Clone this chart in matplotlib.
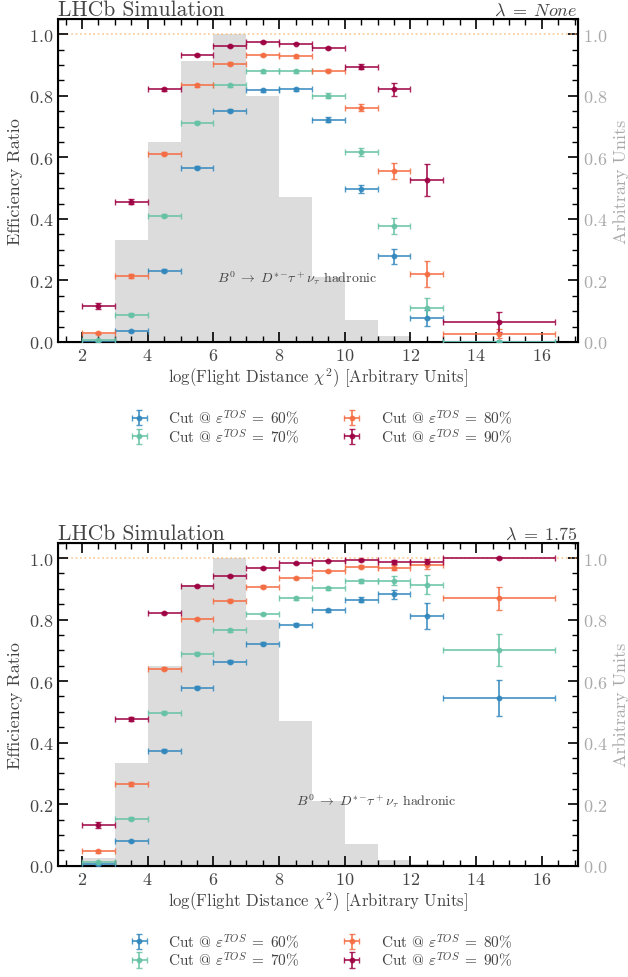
import matplotlib
matplotlib.use("Agg")
import matplotlib.pyplot as plt
from matplotlib.ticker import MultipleLocator
import numpy as np

plt.rcParams['font.family'] = 'serif'
plt.rcParams['font.serif'] = ['cmr10']
plt.rcParams['mathtext.fontset'] = 'cm'
plt.rcParams['axes.formatter.use_mathtext'] = True

bin_edges = [2, 3, 4, 5, 6, 7, 8, 9, 10, 11, 12, 13, 16.4]
hist_edges = [2, 3, 4, 5, 6, 7, 8, 9, 10, 11, 12, 13]
hist_vals = [0.025, 0.333, 0.65, 0.913, 1.0, 0.80, 0.47, 0.21, 0.07, 0.02, 0.004]

labels = [r"Cut @ $\varepsilon^{TOS}\;=\;60\%$", r"Cut @ $\varepsilon^{TOS}\;=\;70\%$",
          r"Cut @ $\varepsilon^{TOS}\;=\;80\%$", r"Cut @ $\varepsilon^{TOS}\;=\;90\%$"]
colors = ['#3288bd', '#66c2a5', '#f46d43', '#9e0142']

# panel 1: lambda = None
p1_60 = [0.0, 0.035, 0.232, 0.566, 0.751, 0.818, 0.821, 0.722, 0.497, 0.278, 0.078, 0.0]
p1_70 = [0.005, 0.089, 0.411, 0.712, 0.835, 0.880, 0.880, 0.801, 0.617, 0.377, 0.110, 0.0]
p1_80 = [0.029, 0.215, 0.612, 0.835, 0.905, 0.932, 0.928, 0.881, 0.762, 0.556, 0.221, 0.027]
p1_90 = [0.117, 0.456, 0.822, 0.932, 0.961, 0.974, 0.970, 0.955, 0.895, 0.821, 0.528, 0.065]
e1_60 = [0.003, 0.004, 0.005, 0.005, 0.005, 0.005, 0.005, 0.008, 0.012, 0.024, 0.025, 0.003]
e1_70 = [0.003, 0.004, 0.005, 0.005, 0.005, 0.005, 0.005, 0.007, 0.012, 0.025, 0.034, 0.003]
e1_80 = [0.004, 0.006, 0.005, 0.005, 0.004, 0.004, 0.004, 0.005, 0.010, 0.027, 0.043, 0.015]
e1_90 = [0.010, 0.008, 0.005, 0.004, 0.003, 0.003, 0.003, 0.004, 0.008, 0.022, 0.052, 0.031]

# panel 2: lambda = 1.75
p2_60 = [0.005, 0.081, 0.374, 0.578, 0.663, 0.722, 0.784, 0.830, 0.865, 0.882, 0.812, 0.545]
p2_70 = [0.013, 0.153, 0.497, 0.689, 0.765, 0.819, 0.869, 0.902, 0.926, 0.927, 0.914, 0.701]
p2_80 = [0.047, 0.266, 0.640, 0.802, 0.862, 0.907, 0.936, 0.958, 0.972, 0.969, 0.978, 0.869]
p2_90 = [0.132, 0.477, 0.822, 0.910, 0.943, 0.968, 0.983, 0.991, 0.994, 0.988, 0.988, 0.999]
e2_60 = [0.003, 0.004, 0.005, 0.005, 0.005, 0.005, 0.005, 0.006, 0.008, 0.014, 0.041, 0.057]
e2_70 = [0.003, 0.005, 0.005, 0.005, 0.005, 0.004, 0.004, 0.005, 0.007, 0.015, 0.031, 0.052]
e2_80 = [0.005, 0.006, 0.005, 0.004, 0.004, 0.004, 0.003, 0.004, 0.005, 0.008, 0.015, 0.038]
e2_90 = [0.010, 0.007, 0.004, 0.003, 0.003, 0.002, 0.002, 0.002, 0.003, 0.006, 0.008, 0.003]

panels = [
    dict(vals=[p1_60, p1_70, p1_80, p1_90], errs=[e1_60, e1_70, e1_80, e1_90],
         rtitle=r"$\lambda\;=\;None$", text_x=6.1),
    dict(vals=[p2_60, p2_70, p2_80, p2_90], errs=[e2_60, e2_70, e2_80, e2_90],
         rtitle=r"$\lambda\;=\;1.75$", text_x=8.5),
]

edges = np.array(bin_edges)
centers = 0.5 * (edges[:-1] + edges[1:])
halfw = 0.5 * (edges[1:] - edges[:-1])

fig = plt.figure(figsize=(6.28, 9.78), dpi=100)
axpos = [[0.0924, 0.6493, 0.828, 0.3303], [0.0924, 0.1138, 0.828, 0.3303]]
tcol = '#444444'

for pos, pan in zip(axpos, panels):
    ax = fig.add_axes(pos)
    ax2 = ax.twinx()
    ax.set_zorder(ax2.get_zorder() + 1)
    ax.patch.set_visible(False)
    ax2.stairs(hist_vals, hist_edges, fill=True, color='#dcdcdc', linewidth=0)
    ax2.set_ylim(0, 1.05)
    ax2.yaxis.set_major_locator(MultipleLocator(0.2))
    ax2.yaxis.set_minor_locator(MultipleLocator(0.05))
    ax2.tick_params(axis='y', which='both', direction='in', colors='#aaaaaa', labelsize=13)
    ax2.tick_params(axis='y', which='major', length=7, width=1.2, color='k')
    ax2.tick_params(axis='y', which='minor', length=4, width=1, color='k')
    ax2.set_ylabel("Arbitrary Units", color='#aaaaaa', fontsize=13)

    ax.axhline(1.0, color='#fdae61', linestyle=':', linewidth=1.2, alpha=0.7, zorder=1)
    for v, e, c, lab in zip(pan['vals'], pan['errs'], colors, labels):
        ax.errorbar(centers, v, xerr=halfw, yerr=e, fmt='o', color=c, ms=3.2,
                    elinewidth=1.3, capsize=2, capthick=1, label=lab, alpha=0.85, zorder=3)
    ax.set_xlim(1.27, 17.1)
    ax.set_ylim(0, 1.05)
    ax.xaxis.set_major_locator(MultipleLocator(2))
    ax.xaxis.set_minor_locator(MultipleLocator(0.5))
    ax.yaxis.set_major_locator(MultipleLocator(0.2))
    ax.yaxis.set_minor_locator(MultipleLocator(0.05))
    ax.tick_params(which='both', direction='in', top=True, right=False, labelsize=13,
                   labelcolor=tcol)
    ax.tick_params(which='major', length=7, width=1.2)
    ax.tick_params(which='minor', length=4, width=1)
    for s in ax.spines.values():
        s.set_linewidth(1.5)
    ax.set_xlabel(r"log(Flight Distance $\chi^2$) [Arbitrary Units]", fontsize=12, color=tcol,
                  labelpad=2)
    ax.set_ylabel("Efficiency Ratio", fontsize=13, color=tcol)
    ax.set_title("LHCb Simulation", loc='left', fontsize=15.5, color=tcol, pad=3)
    ax.set_title(pan['rtitle'], loc='right', fontsize=13, color=tcol, pad=3)
    ax.text(pan['text_x'], 0.212, r"$B^0\;\to\;D^{*-}\!\tau^+\nu_\tau$ hadronic", fontsize=10,
            color=tcol, va='center', ha='left')
    ax.legend(loc='upper center', bbox_to_anchor=(0.5, -0.16), ncol=2, frameon=False,
              fontsize=11, labelspacing=0.0, columnspacing=2.4, handletextpad=0.9,
              labelcolor=tcol)

fig.savefig("out.png", dpi=100)
